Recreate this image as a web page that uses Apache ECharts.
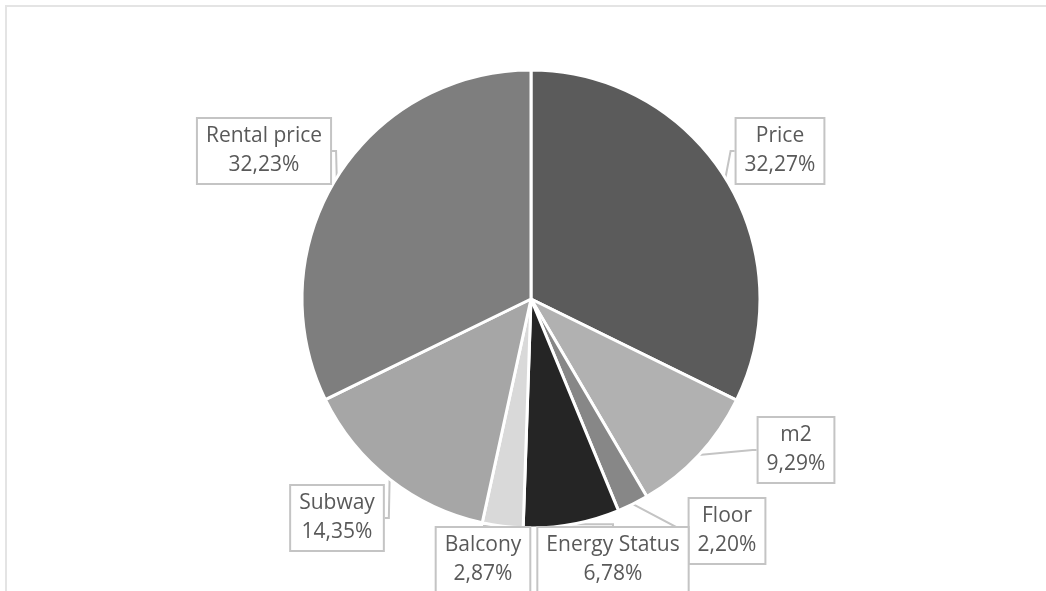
<!DOCTYPE html>
<html>
<head>
<meta charset="utf-8">
<script src="https://cdn.jsdelivr.net/npm/echarts@6/dist/echarts.min.js"></script>
<style>
  html, body { margin: 0; padding: 0; background: #fff; }
  #chart { width: 1046px; height: 591px; }
</style>
</head>
<body>
<div id="chart"></div>
<script>
// slice names and shares (%), clockwise from 12 o'clock
var names = ['Price', 'm2', 'Floor', 'Energy Status', 'Balcony', 'Subway', 'Rental price'];
var shares = [32.27, 9.29, 2.20, 6.78, 2.87, 14.35, 32.23];
var colors = ['#5b5b5b', '#b1b1b1', '#878787', '#252525', '#d9d9d9', '#a6a6a6', '#7e7e7e'];

// where the callout boxes sit (box centre, px)
var labelPos = [
  [780, 151], [796, 450], [727, 531], [613, 560], [483, 560], [337, 518], [264, 151]
];

var chart = echarts.init(document.getElementById('chart'), null, { renderer: 'canvas' });

var pieData = names.map(function (n, i) {
  return { name: n, value: shares[i], itemStyle: { color: colors[i] } };
});

chart.setOption({
  animation: false,
  graphic: [
    { type: 'line', shape: { x1: 5, y1: 6, x2: 1046, y2: 6 }, style: { stroke: '#e4e4e4', lineWidth: 2 } },
    { type: 'line', shape: { x1: 6, y1: 5, x2: 6, y2: 591 }, style: { stroke: '#e4e4e4', lineWidth: 2 } }
  ],
  series: [{
    type: 'pie',
    center: [531, 299],
    radius: [0, 229],
    startAngle: 90,
    clockwise: true,
    data: pieData,
    itemStyle: { borderColor: '#fff', borderWidth: 3 },
    label: {
      show: true,
      formatter: function (p) {
        return p.name + '\n' + p.value.toFixed(2).replace('.', ',') + '%';
      },
      fontFamily: 'Open Sans',
      fontSize: 21,
      lineHeight: 29,
      color: '#595959',
      backgroundColor: '#fff',
      borderColor: '#c4c4c4',
      borderWidth: 2,
      padding: [3, 8, 3, 8],
      align: 'center'
    },
    labelLine: {
      show: true,
      length: 6,
      length2: 4,
      lineStyle: { color: '#c4c4c4', width: 2 }
    },
    labelLayout: function (params) {
      var p = labelPos[params.dataIndex];
      return { x: p[0], y: p[1], align: 'center', verticalAlign: 'middle' };
    }
  }]
});
</script>
</body>
</html>
